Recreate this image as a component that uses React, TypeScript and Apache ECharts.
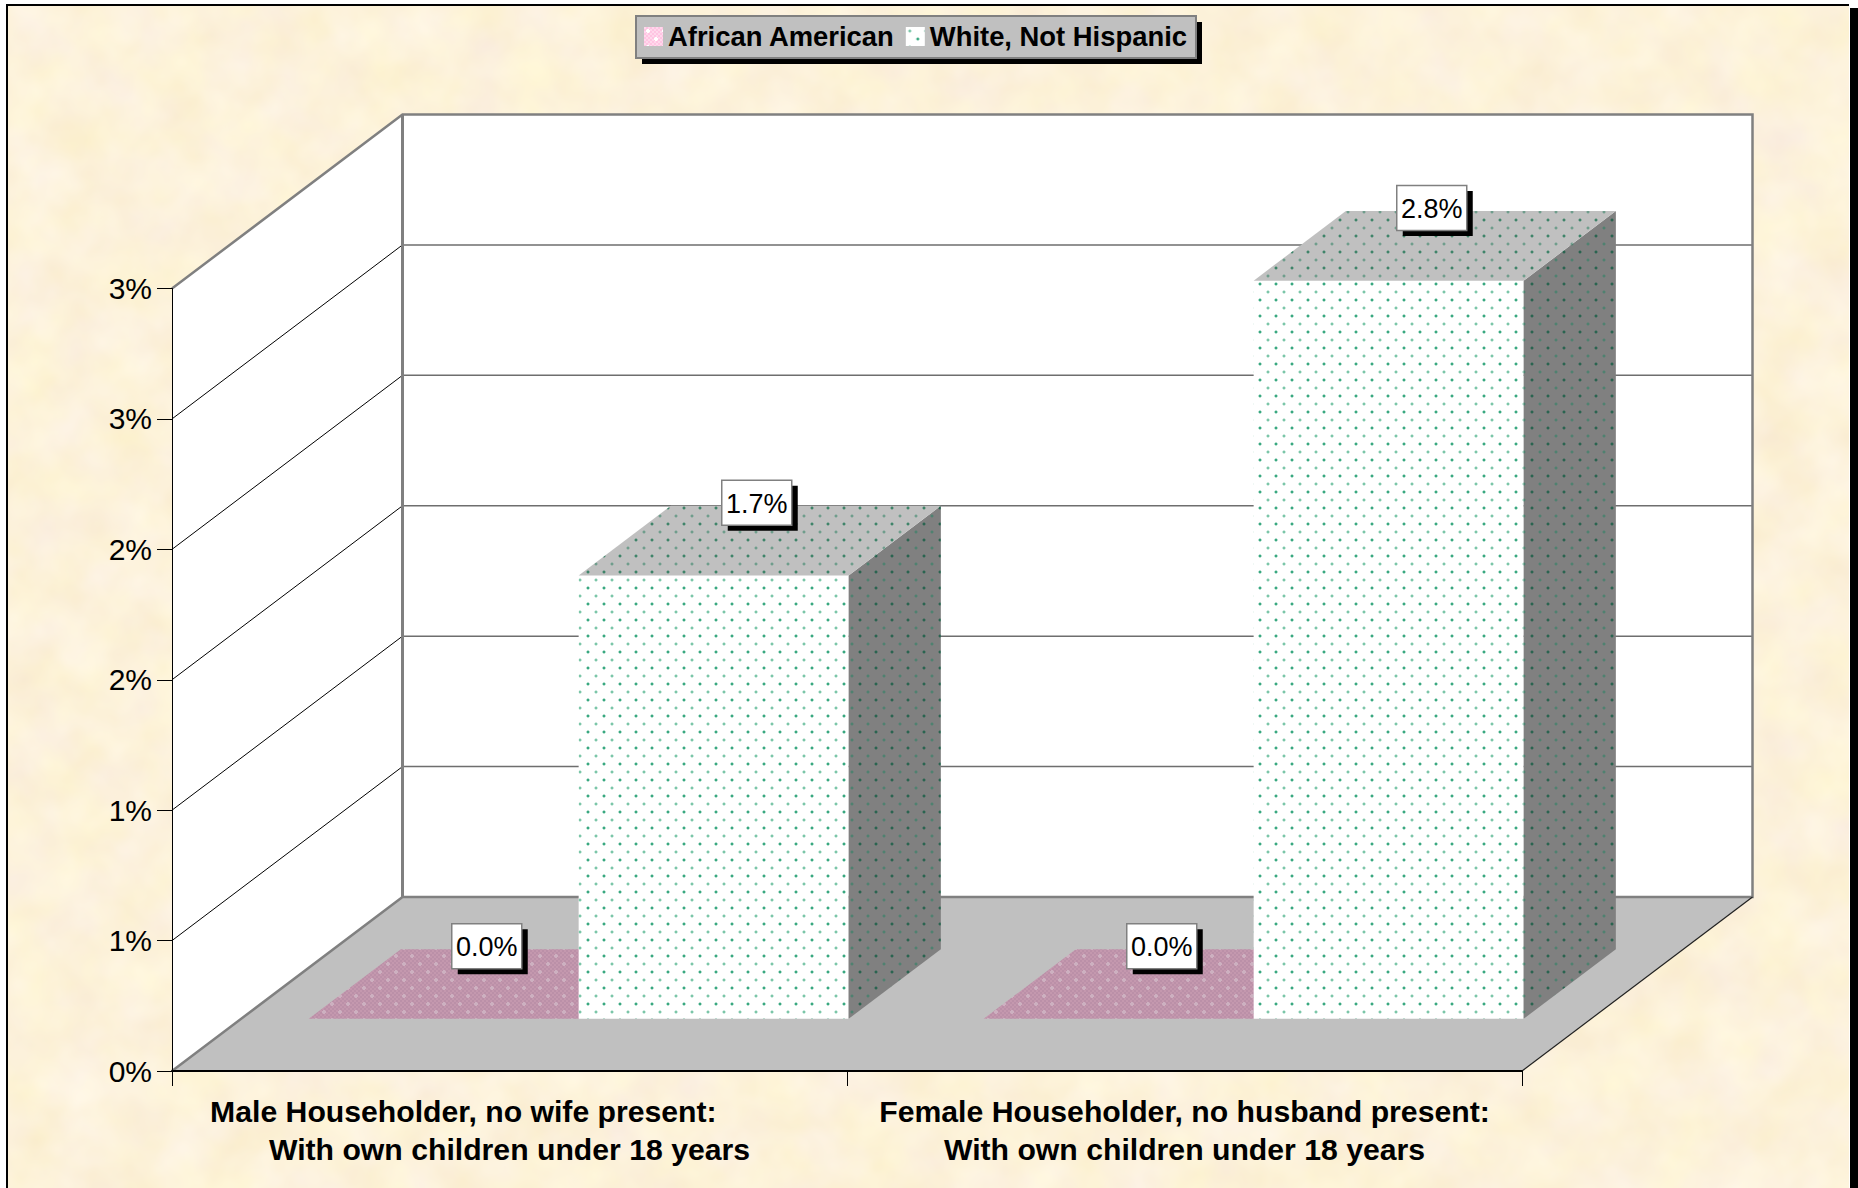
import React, { useEffect, useRef } from "react";
import * as echarts from "echarts";

const categories = [
  "Male Householder, no wife present:           \nWith own children under 18 years",
  "Female Householder, no husband present:\nWith own children under 18 years",
];
const africanAmerican = [0.0, 0.0];
const whiteNotHispanic = [1.7, 2.83];
const yTicks = [0, 0.5, 1, 1.5, 2, 2.5, 3];
const seriesNames = ["African American", "White, Not Hispanic"];

const FONT = '"Liberation Sans", Arial, sans-serif';
const DX = 230.5;
const DY = 174;
const FRONT = 0.3;
const BACK = 0.7;
const BAR = 0.4;

function dotTile(bg: string, dotA: string, dotB: string, check?: string) {
  const c = document.createElement("canvas");
  c.width = 16;
  c.height = 16;
  const g = c.getContext("2d")!;
  g.fillStyle = bg;
  g.fillRect(0, 0, 16, 16);
  if (check) {
    g.fillStyle = check;
    for (let y = 0; y < 16; y += 2)
      for (let x = (y / 2) % 2 === 0 ? 0 : 2; x < 16; x += 4) g.fillRect(x, y, 2, 2);
  }
  const dot = (x: number, y: number, col: string) => {
    g.fillStyle = col;
    if (check) {
      g.fillRect(x - 1, y, 4, 2);
      g.fillRect(x, y - 1, 2, 4);
    } else {
      g.fillRect(x, y, 2, 2);
      g.globalAlpha = 0.35;
      g.fillRect(x - 1, y, 4, 2);
      g.fillRect(x, y - 1, 2, 4);
      g.globalAlpha = 1;
    }
  };
  dot(3, 3, dotA);
  dot(11, 11, dotB);
  return { image: c, repeat: "repeat" } as any;
}

const parchment =
  "data:image/svg+xml," +
  encodeURIComponent(
    `<svg xmlns="http://www.w3.org/2000/svg" width="1858" height="1188"><filter id="n" x="0" y="0" width="100%" height="100%" color-interpolation-filters="sRGB"><feTurbulence type="fractalNoise" baseFrequency="0.02" numOctaves="3" seed="7"/><feColorMatrix type="matrix" values="0.03 0 0 0 0.975  0.06 0 0 0 0.918  0.05 0 0.1 0 0.78  0 0 0 0 1"/></filter><rect width="1858" height="1188" filter="url(#n)"/></svg>`
  );

export default function App() {
  const ref = useRef<HTMLDivElement>(null);
  useEffect(() => {
    const chart = echarts.init(ref.current!, undefined, { renderer: "svg", width: 1858, height: 1188 });

    const tiles = [
      {
        front: dotTile("#c498ae", "#cdb0c0", "#cdb0c0", "#bb90a8"),
        top: dotTile("#c498ae", "#cdb0c0", "#cdb0c0", "#bb90a8"),
        side: dotTile("#806070", "#a08090", "#a08090", "#705060"),
      },
      {
        front: dotTile("#ffffff", "#7cc7a8", "#3aa880"),
        top: dotTile("#c0c0c0", "#6f9d8c", "#3f8469"),
        side: dotTile("#808080", "#4f8270", "#2a6450"),
      },
    ];
    const legendTiles = [
      dotTile("#ffc4e2", "#ffffff", "#ffffff", "#ffd8ec"),
      dotTile("#ffffff", "#7cc7a8", "#3aa880"),
    ];

    const project = (api: any, cat: number, val: number, off: number, depth: number) => {
      const p = api.coord([cat, val]);
      const w = api.size([1, 0])[0];
      return [p[0] + off * w + depth * DX, p[1] - depth * DY];
    };

    const poly = (points: number[][], fill: any) => ({
      type: "polygon",
      shape: { points },
      style: { fill, stroke: "none" },
      silent: true,
    });

    const barRender = (s: number) => (_p: any, api: any) => {
      const c = api.value(0);
      const v = api.value(1);
      const off = s === 0 ? -BAR : 0;
      const t = tiles[s];
      const fl = project(api, c, 0, off, FRONT);
      const fr = project(api, c, 0, off + BAR, FRONT);
      const tl = project(api, c, v, off, FRONT);
      const tr = project(api, c, v, off + BAR, FRONT);
      const btl = project(api, c, v, off, BACK);
      const btr = project(api, c, v, off + BAR, BACK);
      const bbr = project(api, c, 0, off + BAR, BACK);
      const children: any[] = [];
      if (v > 0) {
        children.push(poly([fl, fr, tr, tl], t.front));
        children.push(poly([fr, bbr, btr, tr], t.side));
      }
      children.push(poly([tl, tr, btr, btl], t.top));
      return { type: "group", children };
    };

    const labelRender = (s: number) => (_p: any, api: any) => {
      const c = api.value(0);
      const v = api.value(1);
      const off = s === 0 ? -BAR : 0;
      const a = project(api, c, v, off + BAR / 2, (FRONT + BACK) / 2);
      const back = project(api, c, v, off + BAR / 2, BACK);
      const cx = a[0] - 3;
      const cy = back[1] - 3;
      const w = 70;
      const h = 45;
      return {
        type: "group",
        children: [
          { type: "rect", shape: { x: cx - w / 2 + 6, y: cy - h / 2 + 5.5, width: w, height: h }, style: { fill: "#000000" }, silent: true },
          { type: "rect", shape: { x: cx - w / 2, y: cy - h / 2, width: w, height: h }, style: { fill: "#ffffff", stroke: "#808080", lineWidth: 1.5 }, silent: true },
          {
            type: "text",
            x: cx,
            y: cy + 1,
            style: { text: `${v.toFixed(1)}%`, fill: "#000000", font: `27px ${FONT}`, align: "center", verticalAlign: "middle" },
            silent: true,
          },
        ],
      };
    };

    const wallRender = (params: any, api: any) => {
      const cs = params.coordSys;
      const l = cs.x;
      const r = cs.x + cs.width;
      const y0 = api.coord([0, yTicks[0]])[1];
      const y1 = api.coord([0, yTicks[yTicks.length - 1]])[1];
      const frame = { stroke: "#808080", lineWidth: 2.5, fill: "none" };
      const children: any[] = [
        poly([[l, y0], [l + DX, y0 - DY], [l + DX, y1 - DY], [l, y1]], "#ffffff"),
        poly([[l + DX, y0 - DY], [r + DX, y0 - DY], [r + DX, y1 - DY], [l + DX, y1 - DY]], "#ffffff"),
        poly([[l, y0], [r, y0], [r + DX, y0 - DY], [l + DX, y0 - DY]], "#c0c0c0"),
      ];
      yTicks.slice(1, -1).forEach((t) => {
        const y = api.coord([0, t])[1];
        children.push({ type: "line", shape: { x1: l, y1: y, x2: l + DX, y2: y - DY }, style: { stroke: "#000000", lineWidth: 1 }, silent: true });
        children.push({ type: "line", shape: { x1: l + DX, y1: y - DY, x2: r + DX, y2: y - DY }, style: { stroke: "#6e6e6e", lineWidth: 1.5 }, silent: true });
      });
      children.push({
        type: "polyline",
        shape: { points: [[l, y1], [l + DX, y1 - DY], [r + DX, y1 - DY], [r + DX, y0 - DY], [l + DX, y0 - DY], [l, y0]] },
        style: frame,
        silent: true,
      });
      children.push({ type: "line", shape: { x1: l + DX, y1: y0 - DY, x2: l + DX, y2: y1 - DY }, style: { stroke: "#808080", lineWidth: 3 }, silent: true });
      children.push({ type: "line", shape: { x1: r, y1: y0, x2: r + DX, y2: y0 - DY }, style: { stroke: "#202020", lineWidth: 1.2 }, silent: true });
      return { type: "group", children };
    };

    chart.setOption({
      animation: false,
      backgroundColor: "transparent",
      tooltip: { show: false },
      grid: { left: 172, top: 288.5, width: 1350, height: 782.5, containLabel: false },
      legend: {
        left: 636,
        top: 16,
        orient: "horizontal",
        backgroundColor: "#c0c0c0",
        borderColor: "#808080",
        borderWidth: 2,
        borderRadius: 0,
        padding: [7, 9, 8, 8],
        itemWidth: 19,
        itemHeight: 19,
        itemGap: 11,
        selectedMode: false,
        textStyle: { fontFamily: FONT, fontWeight: "bold", fontSize: 27.4, color: "#000000" },
        data: seriesNames.map((name, i) => ({ name, icon: "rect", itemStyle: { color: legendTiles[i], borderWidth: 0 } })),
      },
      xAxis: {
        type: "category",
        data: categories,
        z: 5,
        axisLine: { show: true, lineStyle: { color: "#000000", width: 2 } },
        axisTick: { show: true, length: 15, alignWithLabel: false, lineStyle: { color: "#000000", width: 1 } },
        axisLabel: { show: true, interval: 0, margin: 21, color: "#000000", fontFamily: FONT, fontWeight: "bold", fontSize: 30.2, lineHeight: 38, hideOverlap: false },
      },
      yAxis: {
        type: "value",
        min: 0,
        max: 3,
        interval: 0.5,
        z: 5,
        splitLine: { show: false },
        axisLine: { show: true, lineStyle: { color: "#000000", width: 1 } },
        axisTick: { show: true, length: 15, lineStyle: { color: "#000000", width: 1 } },
        axisLabel: { show: true, margin: 20, color: "#000000", fontFamily: FONT, fontSize: 30, formatter: (v: number) => `${Math.round(v)}%` },
      },
      graphic: [
        { type: "rect", z: 1, silent: true, shape: { x: 642, y: 22, width: 560, height: 42 }, style: { fill: "#000000" } },
      ],
      series: [
        { type: "custom", silent: true, z: 1, data: [[0, 0]], encode: { x: 0, y: 1 }, renderItem: wallRender },
        ...[africanAmerican, whiteNotHispanic].map((vals, s) => ({
          type: "custom",
          name: seriesNames[s],
          silent: true,
          z: 2,
          data: vals.map((v, i) => [i, v]),
          encode: { x: 0, y: 1 },
          itemStyle: { color: s === 0 ? "#ffc4e2" : "#ffffff" },
          renderItem: barRender(s),
        })),
        ...[africanAmerican, whiteNotHispanic].map((vals, s) => ({
          type: "custom",
          silent: true,
          z: 3,
          data: vals.map((v, i) => [i, v]),
          encode: { x: 0, y: 1 },
          renderItem: labelRender(s),
        })),
      ],
    });
    return () => chart.dispose();
  }, []);

  return (
    <div style={{ position: "absolute", left: 0, top: 0, width: 1858, height: 1188, background: "#ffffff", overflow: "hidden" }}>
      <div style={{ position: "absolute", left: 1850, top: 8, width: 8, height: 1180, background: "#000000" }} />
      <div
        style={{
          position: "absolute",
          left: 6,
          top: 4,
          width: 1843,
          height: 1184,
          boxSizing: "border-box",
          borderLeft: "2px solid #000",
          borderTop: "2px solid #000",
          backgroundImage: `url("${parchment}")`,
        }}
      />
      <div ref={ref} style={{ position: "absolute", left: 0, top: 0, width: 1858, height: 1188 }} />
    </div>
  );
}
